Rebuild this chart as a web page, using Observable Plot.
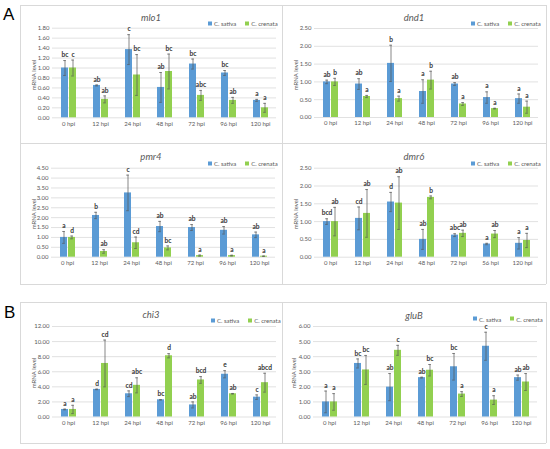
<!DOCTYPE html>
<html><head><meta charset="utf-8">
<script src="https://cdn.jsdelivr.net/npm/d3@7"></script>
<script src="https://cdn.jsdelivr.net/npm/@observablehq/plot@0.6"></script>
<style>
body{margin:0;background:#fff;}
#root{position:relative;width:550px;height:449px;overflow:hidden;font-family:Lato,"Liberation Sans",sans-serif;}
.abs{position:absolute;}
.title{font-style:italic;font-size:9.5px;color:#595959;transform:translate(-50%,-50%);white-space:nowrap;}
.ylab{font-size:6px;color:#595959;transform:translate(-50%,-50%) rotate(-90deg);white-space:nowrap;}
.leg{font-size:6px;color:#595959;white-space:nowrap;transform:translateY(-50%);display:flex;align-items:center;}
.sw{display:inline-block;width:4px;height:4px;margin-right:2px;}
.hl{position:absolute;height:1px;background:#d9d9d9;}
.vl{position:absolute;width:1px;background:#d9d9d9;}
.big{font-family:"Liberation Sans",Arial,sans-serif;font-size:17px;color:#000;}
</style></head>
<body><div id="root"></div>
<script>
// ---- data ----
const series = ["C. sativa", "C. crenata"];
const hpi = ["0 hpi","12 hpi","24 hpi","48 hpi","72 hpi","96 hpi","120 hpi"];
const hpiDmr6 = ["0 hpi","12 hpi","24 hpi","48 hpi","72 hpi","56 hpi","120 hpi"];

const mlo1Ticks = [0,0.2,0.4,0.6,0.8,1.0,1.2,1.4,1.6,1.8];
const mlo1Sativa = [1.00,0.65,1.37,0.61,1.08,0.90,0.35];
const mlo1SativaErr = [0.15,0.01,0.30,0.30,0.10,0.05,0.02];
const mlo1SativaLet = ["bc","ab","c","ab","bc","bc","a"];
const mlo1Crenata = [1.00,0.37,0.86,0.93,0.45,0.35,0.20];
const mlo1CrenataErr = [0.16,0.07,0.41,0.35,0.10,0.06,0.09];
const mlo1CrenataLet = ["c","ab","bc","bc","abc","ab","a"];

const dnd1Ticks = [0,0.5,1.0,1.5,2.0,2.5];
const dnd1Sativa = [1.00,0.94,1.52,0.73,0.94,0.56,0.53];
const dnd1SativaErr = [0.05,0.15,0.51,0.33,0.04,0.16,0.13];
const dnd1SativaLet = ["ab","ab","b","a","ab","a","a"];
const dnd1Crenata = [1.00,0.59,0.53,1.05,0.38,0.25,0.29];
const dnd1CrenataErr = [0.10,0.03,0.07,0.25,0.04,0.01,0.17];
const dnd1CrenataLet = ["b","a","a","b","a","a","a"];

const pmr4Ticks = [0,0.5,1.0,1.5,2.0,2.5,3.0,3.5,4.0,4.5];
const pmr4Sativa = [1.00,2.11,3.25,1.55,1.50,1.36,1.13];
const pmr4SativaErr = [0.30,0.16,0.90,0.26,0.15,0.19,0.14];
const pmr4SativaLet = ["a","b","c","ab","ab","ab","ab"];
const pmr4Crenata = [1.00,0.29,0.73,0.47,0.08,0.08,0.05];
const pmr4CrenataErr = [0.07,0.09,0.29,0.10,0.03,0.02,0.01];
const pmr4CrenataLet = ["d","ab","cd","bc","a","a","a"];

const dmr6Ticks = [0,0.5,1.0,1.5,2.0,2.5];
const dmr6Sativa = [1.00,1.09,1.55,0.50,0.62,0.37,0.39];
const dmr6SativaErr = [0.08,0.32,0.27,0.28,0.04,0.02,0.16];
const dmr6SativaLet = ["bcd","cd","d","ab","abc","a","a"];
const dmr6Crenata = [1.00,1.23,1.52,1.68,0.67,0.65,0.47];
const dmr6CrenataErr = [0.40,0.67,0.74,0.04,0.09,0.10,0.20];
const dmr6CrenataLet = ["ab","ab","ab","b","ab","ab","a"];

const chi3Ticks = [0,2,4,6,8,10,12];
const chi3Sativa = [1.00,3.66,3.08,2.28,1.60,5.67,2.63];
const chi3SativaErr = [0.05,0.04,0.38,0.03,0.40,0.48,0.30];
const chi3SativaLet = ["a","d","cd","bc","ab","e","c"];
const chi3Crenata = [1.00,7.10,4.20,8.12,4.91,3.08,4.55];
const chi3CrenataErr = [0.55,3.10,1.00,0.28,0.45,0.04,1.25];
const chi3CrenataLet = ["a","cd","abc","d","bcd","ab","abcd"];

const glubTicks = [0,1,2,3,4,5,6];
const glubSativa = [1.00,3.55,1.98,2.61,3.33,4.69,2.61];
const glubSativaErr = [0.72,0.30,0.90,0.03,0.88,0.93,0.17];
const glubSativaLet = ["a","bc","ab","ab","bc","c","ab"];
const glubCrenata = [1.00,3.12,4.42,3.10,1.52,1.12,2.32];
const glubCrenataErr = [0.55,0.96,0.33,0.38,0.16,0.29,0.56];
const glubCrenataLet = ["a","bc","c","bc","a","a","ab"];

// ---- layout / style ----
const colors = ["#5B9BD5", "#92D050"];
const FONT = 'Lato,"Liberation Sans",sans-serif';
const root = document.getElementById("root");

const panels = [
  {name:"mlo1", cats:hpi, ticks:mlo1Ticks, sat:mlo1Sativa, satErr:mlo1SativaErr, satLet:mlo1SativaLet, cre:mlo1Crenata, creErr:mlo1CrenataErr, creLet:mlo1CrenataLet,
   box:[20,5,262,138], frame:[51,276,27.7,117.3], titleY:17, legX:208, legY:23},
  {name:"dnd1", cats:hpi, ticks:dnd1Ticks, sat:dnd1Sativa, satErr:dnd1SativaErr, satLet:dnd1SativaLet, cre:dnd1Crenata, creErr:dnd1CrenataErr, creLet:dnd1CrenataLet,
   box:[282,5,264,138], frame:[313,539,28,117], titleY:16.5, legX:471, legY:23.3},
  {name:"pmr4", cats:hpi, ticks:pmr4Ticks, sat:pmr4Sativa, satErr:pmr4SativaErr, satLet:pmr4SativaLet, cre:pmr4Crenata, creErr:pmr4CrenataErr, creLet:pmr4CrenataLet,
   box:[20,143,262,141], frame:[51,275,167.7,256.7], titleY:156, legX:208, legY:163.3},
  {name:"dmr6", cats:hpiDmr6, ticks:dmr6Ticks, sat:dmr6Sativa, satErr:dmr6SativaErr, satLet:dmr6SativaLet, cre:dmr6Crenata, creErr:dmr6CrenataErr, creLet:dmr6CrenataLet,
   box:[282,143,264,141], frame:[313,539,167.7,256.7], titleY:156, legX:471, legY:163.3},
  {name:"chi3", cats:hpi, ticks:chi3Ticks, sat:chi3Sativa, satErr:chi3SativaErr, satLet:chi3SativaLet, cre:chi3Crenata, creErr:chi3CrenataErr, creLet:chi3CrenataLet,
   box:[20,302,262,141], frame:[51,276,326,416.5], titleY:314, legX:211, legY:320},
  {name:"gluB", cats:hpi, ticks:glubTicks, sat:glubSativa, satErr:glubSativaErr, satLet:glubSativaLet, cre:glubCrenata, creErr:glubCrenataErr, creLet:glubCrenataLet,
   box:[282,302,264,141], frame:[311,538,326,416.5], titleY:314.5, legX:473, legY:318.5}
];

function el(cls, styles, text){
  const d = document.createElement("div");
  d.className = cls;
  Object.assign(d.style, styles);
  if (text != null) d.textContent = text;
  root.appendChild(d);
  return d;
}

// panel borders
el("hl", {left:"20px", top:"5px", width:"526px"});
el("hl", {left:"20px", top:"143px", width:"526px"});
el("hl", {left:"20px", top:"284px", width:"526px"});
el("vl", {left:"20px", top:"5px", height:"279px"});
el("vl", {left:"282px", top:"5px", height:"279px"});
el("vl", {left:"546px", top:"5px", height:"279px"});
el("hl", {left:"20px", top:"302px", width:"526px"});
el("hl", {left:"20px", top:"443px", width:"526px"});
el("vl", {left:"20px", top:"302px", height:"141px"});
el("vl", {left:"282px", top:"302px", height:"141px"});
el("vl", {left:"546px", top:"302px", height:"141px"});

el("abs big", {left:"3px", top:"5px"}, "A");
el("abs big", {left:"4px", top:"303px"}, "B");

for (const p of panels) {
  const rows = [];
  p.cats.forEach((c, i) => {
    rows.push({time:c, series:series[0], value:p.sat[i], err:p.satErr[i], letter:p.satLet[i]});
    rows.push({time:c, series:series[1], value:p.cre[i], err:p.creErr[i], letter:p.creLet[i]});
  });
  const [bx, by, bw, bh] = p.box;
  const [x0, x1, y0, y1] = p.frame;
  const chart = Plot.plot({
    width: bw, height: bh,
    marginLeft: x0 - bx, marginRight: bx + bw - x1,
    marginTop: y0 - by, marginBottom: by + bh - y1,
    style: {fontSize:"6px", fontFamily:FONT, color:"#595959", background:"transparent", overflow:"visible"},
    fx: {domain:p.cats, padding:0, axis:"bottom", tickSize:0, tickPadding:3.5, label:null},
    x: {domain:series, axis:null, paddingInner:0.14, paddingOuter:0.85},
    y: {domain:[0, p.ticks[p.ticks.length-1]], ticks:p.ticks, tickFormat:d3.format(".2f"), tickSize:0, tickPadding:3, label:null},
    color: {domain:series, range:colors},
    marks: [
      Plot.ruleY(p.ticks, {stroke:"#d9d9d9", strokeWidth:0.8}),
      Plot.barY(rows, {fx:"time", x:"series", y:"value", fill:"series"}),
      Plot.ruleX(rows, {fx:"time", x:"series", y1:d => d.value - d.err, y2:d => d.value + d.err, stroke:"#555", strokeWidth:0.7}),
      Plot.tickY(rows, {fx:"time", x:"series", y:d => d.value + d.err, stroke:"#555", strokeWidth:0.7, insetLeft:2.2, insetRight:2.2}),
      Plot.tickY(rows, {fx:"time", x:"series", y:d => d.value - d.err, stroke:"#555", strokeWidth:0.7, insetLeft:2.2, insetRight:2.2}),
      Plot.text(rows, {fx:"time", x:"series", y:d => d.value + d.err, text:"letter", dy:-5.5, fontSize:6.6, fontWeight:"bold", fill:"#333"})
    ]
  });
  chart.style.position = "absolute";
  chart.style.left = bx + "px";
  chart.style.top = by + "px";
  root.appendChild(chart);

  el("abs title", {left:(bx + bw/2) + "px", top:p.titleY + "px"}, p.name);
  el("abs ylab", {left:(x0 - 18.5) + "px", top:((y0 + y1)/2 + 2) + "px"}, "mRNA level");
  const leg = el("abs leg", {left:p.legX + "px", top:p.legY + "px"});
  series.forEach((s, i) => {
    const sw = document.createElement("span");
    sw.className = "sw"; sw.style.background = colors[i];
    if (i > 0) sw.style.marginLeft = "9px";
    leg.appendChild(sw);
    const t = document.createElement("span");
    t.textContent = s;
    leg.appendChild(t);
  });
}
</script></body></html>
